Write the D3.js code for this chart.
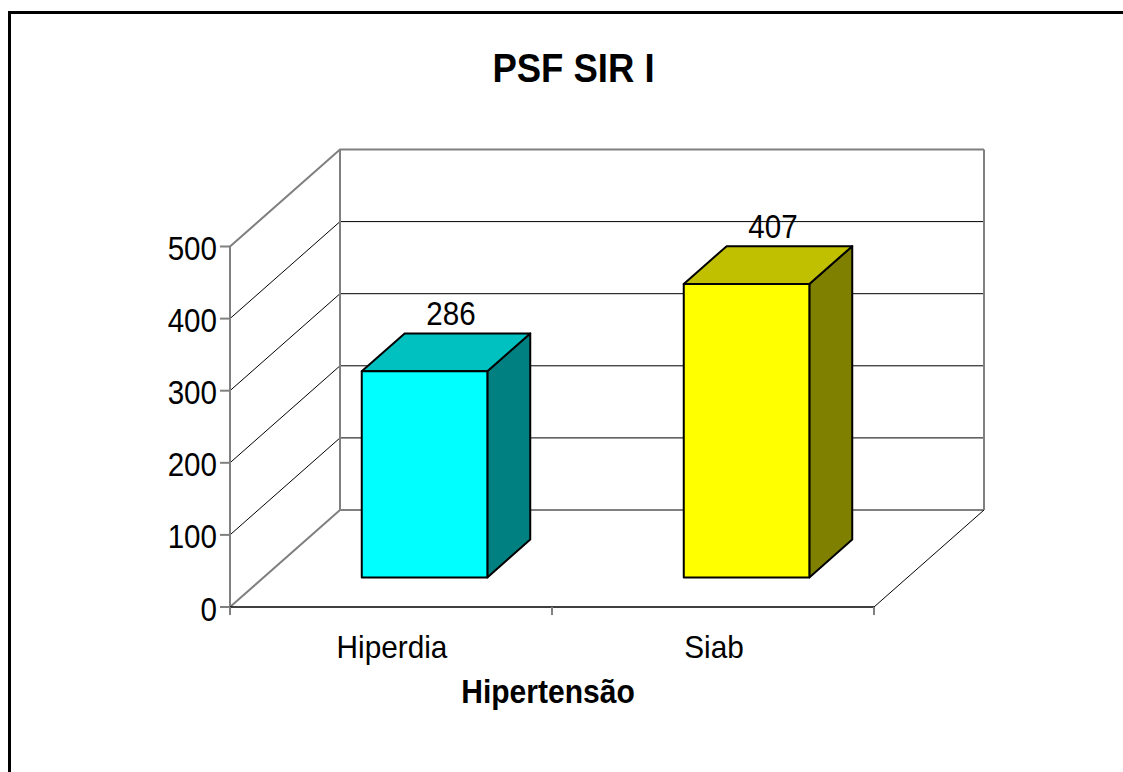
<!DOCTYPE html>
<html>
<head>
<meta charset="utf-8">
<script src="https://cdn.jsdelivr.net/npm/d3@7"></script>
<style>
  html, body { margin: 0; padding: 0; background: #fff; overflow: hidden; }
  text { font-family: "Liberation Sans", Arial, sans-serif; fill: #000; }
</style>
</head>
<body>
<div class="grafico"></div>
<script>
// Datos del grafico
var titulo = "PSF SIR I";
var tituloEje = "Hipertensão";
var categorias = ["Hiperdia", "Siab"];
var valores = [286, 407];
var ticksY = [0, 100, 200, 300, 400, 500];
var coloresFrente = ["#00FFFF", "#FFFF00"];
var coloresTapa = ["#00C0C0", "#C0C000"];
var coloresLado = ["#008080", "#808000"];

var W = 1123, H = 772;
var svg = d3.select(".grafico").append("svg")
    .attr("width", W)
    .attr("height", H);

// marco exterior
svg.append("rect")
    .attr("x", 9.5).attr("y", 12.5)
    .attr("width", W + 20).attr("height", H + 20)
    .attr("fill", "none")
    .attr("stroke", "#000")
    .attr("stroke-width", 3);

// escalas
var x = d3.scaleBand().domain(categorias).range([230, 874]).padding(0);
var y = d3.scaleLinear().domain([0, 500]).range([607, 246.5]);
var profX = d3.scaleLinear().domain([0, 1]).range([0, 110]);
var profY = d3.scaleLinear().domain([0, 1]).range([0, -97]);

// proyeccion: (x frontal, valor, profundidad 0..1)
function P(px, v, d) {
    return [px + profX(d), y(v) + profY(d)];
}
function pts(arr) {
    return arr.map(function(p) { return p[0] + "," + p[1]; }).join(" ");
}

var x0 = x.range()[0], x1 = x.range()[1];
var gris = "#808080";

// lineas de la rejilla (pared izquierda + pared del fondo)
ticksY.forEach(function(t, i) {
    var borde = (i === 0 || i === ticksY.length - 1);
    var a = P(x0, t, 0), b = P(x0, t, 1), c = P(x1, t, 1);
    svg.append("polyline")
        .attr("points", pts([a, b, c]))
        .attr("fill", "none")
        .attr("stroke", borde ? gris : "#000")
        .attr("stroke-width", borde ? 2 : 1);
});

// verticales de la pared del fondo
[x0, x1].forEach(function(px) {
    var a = P(px, 0, 1), b = P(px, 500, 1);
    svg.append("line")
        .attr("x1", a[0]).attr("y1", a[1])
        .attr("x2", b[0]).attr("y2", b[1])
        .attr("stroke", gris).attr("stroke-width", 2);
});

// borde derecho del piso
var f1 = P(x1, 0, 0), f2 = P(x1, 0, 1);
svg.append("line")
    .attr("x1", f1[0]).attr("y1", f1[1])
    .attr("x2", f2[0]).attr("y2", f2[1])
    .attr("stroke", "#000").attr("stroke-width", 1);

// eje Y frontal
svg.append("line")
    .attr("x1", x0).attr("y1", y(0) + 8)
    .attr("x2", x0).attr("y2", y(500))
    .attr("stroke", gris).attr("stroke-width", 2);

svg.selectAll("line.tickY")
    .data(ticksY)
    .enter().append("line")
    .attr("class", "tickY")
    .attr("x1", x0 - 10).attr("x2", x0)
    .attr("y1", function(d) { return y(d); })
    .attr("y2", function(d) { return y(d); })
    .attr("stroke", gris).attr("stroke-width", 2);

svg.selectAll("text.tickY")
    .data(ticksY)
    .enter().append("text")
    .attr("class", "tickY")
    .attr("transform", function(d) { return "translate(" + (x0 - 13) + "," + (y(d) + 13.5) + ") scale(0.87,1)"; })
    .attr("text-anchor", "end")
    .style("font-size", "34px")
    .text(function(d) { return d; });

// eje X frontal
svg.append("line")
    .attr("x1", x0).attr("y1", y(0))
    .attr("x2", x1).attr("y2", y(0))
    .attr("stroke", "#000").attr("stroke-width", 1.5);

var bordesX = [x0].concat(categorias.map(function(c) { return x(c) + x.bandwidth(); }));
svg.selectAll("line.tickX")
    .data(bordesX)
    .enter().append("line")
    .attr("class", "tickX")
    .attr("x1", function(d) { return d; })
    .attr("x2", function(d) { return d; })
    .attr("y1", y(0)).attr("y2", y(0) + 8)
    .attr("stroke", gris).attr("stroke-width", 2);

// barras 3D
var anchoBarra = x.bandwidth() * 0.39;
var d0 = 0.305, d1 = 0.695;

categorias.forEach(function(c, i) {
    var cx = x(c) + x.bandwidth() / 2;
    var xl = cx - anchoBarra / 2, xr = cx + anchoBarra / 2;
    var v = valores[i];
    var g = svg.append("g");

    // cara lateral
    g.append("polygon")
        .attr("points", pts([P(xr, 0, d0), P(xr, v, d0), P(xr, v, d1), P(xr, 0, d1)]))
        .attr("fill", coloresLado[i])
        .attr("stroke", "#000").attr("stroke-width", 2).attr("stroke-linejoin", "round");
    // tapa
    g.append("polygon")
        .attr("points", pts([P(xl, v, d0), P(xr, v, d0), P(xr, v, d1), P(xl, v, d1)]))
        .attr("fill", coloresTapa[i])
        .attr("stroke", "#000").attr("stroke-width", 2).attr("stroke-linejoin", "round");
    // frente
    g.append("polygon")
        .attr("points", pts([P(xl, 0, d0), P(xr, 0, d0), P(xr, v, d0), P(xl, v, d0)]))
        .attr("fill", coloresFrente[i])
        .attr("stroke", "#000").attr("stroke-width", 2).attr("stroke-linejoin", "round");

    // etiqueta de valor
    var pe = P(cx, v, 0.5);
    svg.append("text")
        .attr("transform", "translate(" + (pe[0] + 5) + "," + (pe[1] - 27) + ") scale(0.87,1)")
        .attr("text-anchor", "middle")
        .style("font-size", "34px")
        .text(v);
});

// etiquetas de categorias
svg.selectAll("text.cat")
    .data(categorias)
    .enter().append("text")
    .attr("class", "cat")
    .attr("transform", function(d) { return "translate(" + (x(d) + x.bandwidth() / 2 + 1) + ",657.5) scale(0.93,1)"; })
    .attr("text-anchor", "middle")
    .style("font-size", "32px")
    .text(function(d) { return d; });

// titulo del eje
svg.append("text")
    .attr("transform", "translate(548,703) scale(0.91,1)")
    .attr("text-anchor", "middle")
    .style("font-size", "33px")
    .style("font-weight", "bold")
    .text(tituloEje);

// titulo
svg.append("text")
    .attr("transform", "translate(573.5,82) scale(0.89,1)")
    .attr("text-anchor", "middle")
    .style("font-size", "41px")
    .style("font-weight", "bold")
    .text(titulo);
</script>
</body>
</html>
